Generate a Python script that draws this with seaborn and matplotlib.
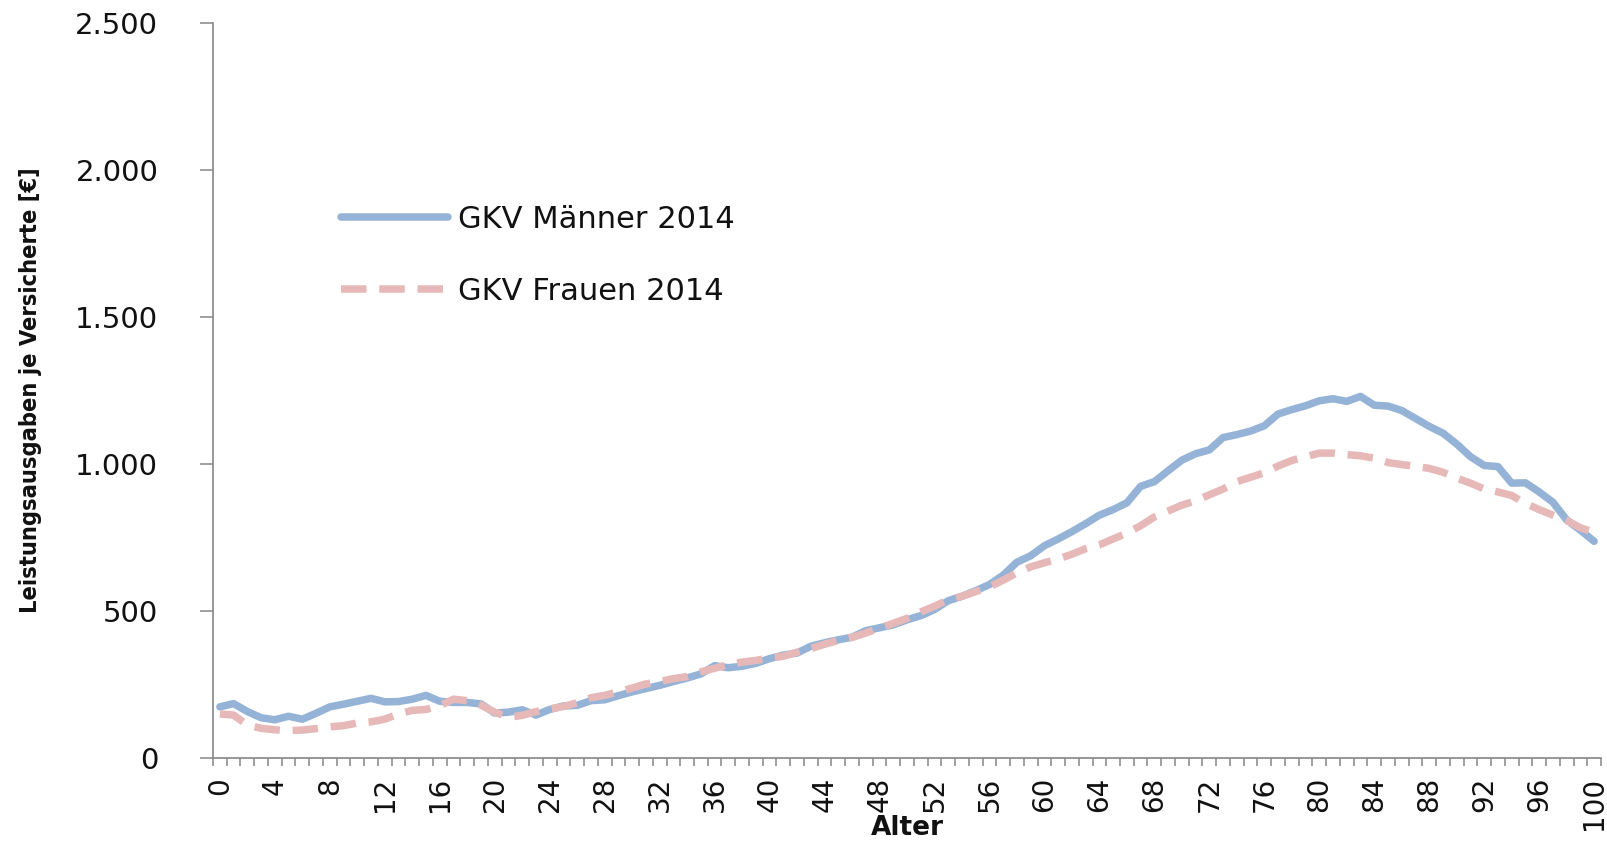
import matplotlib
matplotlib.use("Agg")
import matplotlib.pyplot as plt
import numpy as np
import pandas as pd
import seaborn as sns
from matplotlib.ticker import FixedLocator, FuncFormatter

# ---------------- data ----------------
alter = list(range(0, 101))
maenner = [174, 185, 158, 137, 130, 142, 132, 152, 174, 183,
           193, 203, 191, 192, 200, 213, 193, 189, 189, 184,
           153, 156, 164, 146, 165, 177, 179, 195, 198, 212,
           225, 236, 247, 260, 272, 286, 314, 307, 312, 322,
           338, 350, 357, 380, 392, 402, 411, 433, 443, 453,
           470, 484, 505, 535, 550, 569, 590, 622, 666, 688,
           722, 745, 770, 797, 826, 845, 868, 924, 940, 977,
           1013, 1035, 1048, 1090, 1100, 1112, 1130, 1170, 1185, 1198,
           1215, 1222, 1213, 1230, 1200, 1197, 1182, 1155, 1128, 1105,
           1068, 1025, 995, 991, 935, 936, 905, 870, 810, 775,
           737]
frauen = [150, 146, 112, 101, 96, 93, 95, 100, 106, 110,
          119, 123, 132, 150, 162, 165, 178, 200, 195, 180,
          156, 138, 145, 158, 167, 175, 188, 205, 213, 225,
          238, 252, 260, 270, 277, 293, 305, 318, 326, 332,
          340, 346, 360, 372, 387, 400, 410, 425, 442, 458,
          475, 497, 516, 538, 550, 566, 582, 605, 630, 650,
          664, 677, 693, 712, 725, 745, 765, 790, 820, 840,
          860, 875, 895, 915, 940, 955, 970, 993, 1012, 1025,
          1037, 1037, 1032, 1028, 1020, 1005, 998, 992, 985, 972,
          952, 935, 915, 905, 893, 866, 845, 826, 808, 783,
          768]
serien = ["GKV Männer 2014", "GKV Frauen 2014"]
farben = ["#95B3D7", "#E6B9B8"]
y_ticks = [0, 500, 1000, 1500, 2000, 2500]
x_tick_labels = list(range(0, 101, 4))
x_title = "Alter"
y_title = "Leistungsausgaben je Versicherte [€]"

# ---------------- style ----------------
sns.set_theme(style="white")
plt.rcParams["font.family"] = ["DejaVu Sans"]
axis_grey = "#868686"
text_col = "#111111"

df = pd.DataFrame({
    "Alter": alter + alter,
    "Wert": maenner + frauen,
    "Serie": [serien[0]] * len(alter) + [serien[1]] * len(alter),
})

W, H = 1607, 843
fig = plt.figure(figsize=(W / 100, H / 100), dpi=100)
ax_l, ax_r, ax_t, ax_b = 213, 1601, 23, 758
ax = fig.add_axes([ax_l / W, (H - ax_b) / H, (ax_r - ax_l) / W, (ax_b - ax_t) / H])

lw = 5.4
sns.lineplot(data=df, x="Alter", y="Wert", hue="Serie", style="Serie",
             palette=dict(zip(serien, farben)),
             dashes={serien[0]: "", serien[1]: (3.4, 1.7)},
             linewidth=lw, ax=ax, legend=True)

for ln in ax.lines:
    ln.set_solid_capstyle("round")
    ln.set_dash_capstyle("butt")

ax.set_xlim(-0.5, 100.5)
ax.set_ylim(0, 2500)

# spines
for s in ["top", "right"]:
    ax.spines[s].set_visible(False)
for s in ["left", "bottom"]:
    ax.spines[s].set_color(axis_grey)
    ax.spines[s].set_linewidth(1.2)

# y axis
ax.yaxis.set_major_locator(FixedLocator(y_ticks))
ax.yaxis.set_major_formatter(FuncFormatter(lambda v, p: f"{int(v):,}".replace(",", ".")))
ax.tick_params(axis="y", which="major", direction="out", length=9.4, width=1.1,
               color=axis_grey, pad=30, labelsize=21, labelcolor=text_col, left=True)

# x axis
ax.xaxis.set_major_locator(FixedLocator(x_tick_labels))
ax.xaxis.set_major_formatter(FuncFormatter(lambda v, p: f"{int(round(v))}"))
ax.xaxis.set_minor_locator(FixedLocator([a - 0.5 for a in alter] + [alter[-1] + 0.5]))
ax.tick_params(axis="x", which="major", length=0, pad=13.7, labelsize=20,
               labelcolor=text_col, labelrotation=90, bottom=True)
ax.tick_params(axis="x", which="minor", direction="out", length=5.8, width=1.1,
               color=axis_grey, bottom=True)
for lab in ax.get_xticklabels():
    lab.set_va("top")
    lab.set_ha("center")

ax.grid(False)

# axis titles
ax.set_xlabel(x_title, fontsize=19, fontweight="bold", color=text_col)
ax.xaxis.set_label_coords(0.5, (ax_b - 828) / (ax_b - ax_t))
ax.xaxis.label.set_va("center")

ax.set_ylabel(y_title, fontsize=16, fontweight="bold", color=text_col,
              fontstretch="condensed")
ax.yaxis.set_label_coords((31 - ax_l) / (ax_r - ax_l), 0.5)
ax.yaxis.label.set_va("center")

# legend
fs_leg = 22
fs_px = fs_leg * 100 / 72
sns.move_legend(ax, "upper left",
                bbox_to_anchor=((341 - ax_l) / (ax_r - ax_l), (ax_b - 205) / (ax_b - ax_t)),
                frameon=False, title=None, fontsize=fs_leg,
                handlelength=107 / fs_px, handletextpad=10 / fs_px,
                labelspacing=1.4, borderpad=0, borderaxespad=0)
leg = ax.get_legend()
for t in leg.get_texts():
    t.set_color(text_col)
for h, c in zip(leg.legend_handles, farben):
    h.set_linewidth(lw)
    h.set_color(c)

# fit y label length to reference
fig.canvas.draw()
bb = ax.yaxis.label.get_window_extent()
ax.yaxis.label.set_fontsize(16 * 446 / bb.height)

fig.savefig("out.png", dpi=100)
